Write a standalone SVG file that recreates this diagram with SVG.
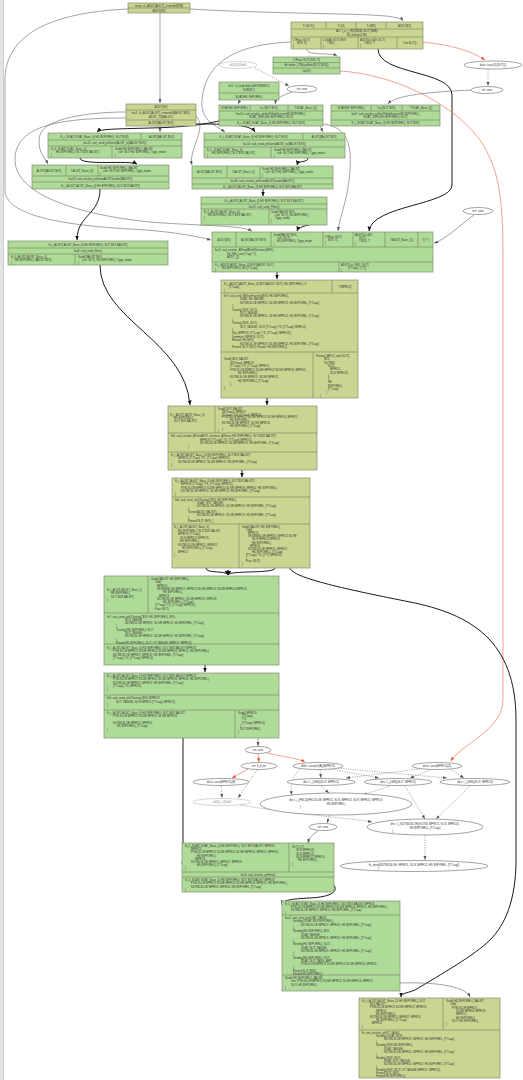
<svg xmlns="http://www.w3.org/2000/svg" width="523" height="1080" viewBox="0 0 523 1080">
<style>
.o{fill:#cad591;stroke:#838c70;stroke-width:0.7}
.g{fill:#afdb98;stroke:#838c70;stroke-width:0.7}
.dv{stroke:#737d60;stroke-width:0.6}
.t{font-family:"Liberation Sans",Arial,sans-serif;font-size:2.8px;fill:#333}
.c{text-anchor:middle}
.el{fill:#fff;stroke:#666;stroke-width:0.6}
.elg{fill:#fff;stroke:#bbb;stroke-width:0.6}
.tg{fill:#888}
.e{fill:none;stroke:#666;stroke-width:0.6}
.b{fill:none;stroke:#1a1a1a;stroke-width:1}
.r{fill:none;stroke:#ef7a5e;stroke-width:0.7}
.d{fill:none;stroke:#777;stroke-width:0.6;stroke-dasharray:1.2,1.2}
</style>
<defs>
<marker id="ag" markerUnits="userSpaceOnUse" markerWidth="5" markerHeight="4" refX="4" refY="1.5" orient="auto"><path d="M0,0L4,1.5L0,3z" fill="#555"/></marker>
<marker id="ab" markerUnits="userSpaceOnUse" markerWidth="5" markerHeight="5" refX="4.5" refY="2" orient="auto"><path d="M0,0L4.5,2L0,4z" fill="#111"/></marker>
<marker id="ar" markerUnits="userSpaceOnUse" markerWidth="5" markerHeight="4" refX="4" refY="1.5" orient="auto"><path d="M0,0L4,1.5L0,3z" fill="#e8452a"/></marker>
</defs>
<rect x="0" y="0" width="523" height="1080" fill="#fff"/>
<rect x="0" y="0" width="3" height="1080" fill="#e4e4e4"/>
<line x1="3.5" y1="0" x2="3.5" y2="1080" stroke="#aaa" stroke-width="0.6"/>

<g id="connectors">
<path class="e" d="M160,13 L160,103" marker-end="url(#ag)"/>
<path class="e" d="M128,9 C60,12 5,30 5,80 L5,190 C5,215 60,225 130,229 C170,231 195,236 211,240" marker-end="url(#ag)"/>
<path class="e" d="M190,9 C240,12 300,13 340,14 C380,15 400,16 403,21" marker-end="url(#ag)"/>
<path class="e" d="M307,49 C306,56 330,52 337,56" marker-end="url(#ag)"/>
<path class="b" d="M378,49 C378,75 452,70 452,95 L452,185 C452,205 372,205 369,231" marker-end="url(#ab)"/>
<path class="r" d="M423,42 C450,45 470,50 485,60" marker-end="url(#ar)"/>
<path class="r" d="M340,71 C390,74 450,100 480,140 C500,170 503,200 503,260 L503,700 C503,730 460,745 451,761" marker-end="url(#ar)"/>
<path class="d" d="M488,69 L488,86" marker-end="url(#ag)"/>
<path class="e" d="M471,90 C430,92 395,95 388,104" marker-end="url(#ag)"/>
<path class="d" d="M255,68 L289,86" marker-end="url(#ag)"/>
<path class="e" d="M292,92 C280,96 276,99 275,104" marker-end="url(#ag)"/>
<path class="e" d="M240,100 L238,104" marker-end="url(#ag)"/>
<path class="e" d="M291,42 C240,44 205,60 202,100 C200,120 215,125 225,132" marker-end="url(#ag)"/>
<path class="b" d="M219,121 C205,124 190,127 150,128 C115,129 100,129 97,132" marker-end="url(#ab)"/>
<path class="b" d="M196,124 C225,124 250,124 255,132" marker-end="url(#ab)"/>
<path class="e" d="M320,126 L323,132" marker-end="url(#ag)"/>
<path class="e" d="M160,126 L160,132" marker-end="url(#ag)"/>
<path class="e" d="M196,116 C208,128 188,150 192,165" marker-end="url(#ag)"/>
<path class="e" d="M126,112 C90,112 45,118 40,135 C36,150 45,158 48,164" marker-end="url(#ag)"/>
<path class="e" d="M126,118 C60,118 15,125 15,160 C15,195 80,215 150,222 C200,226 240,225 252,231" marker-end="url(#ag)"/>
<path class="e" d="M323,124 C345,127 352,140 350,170 C348,200 340,215 338,231" marker-end="url(#ag)"/>
<path class="b" d="M80,158 C80,166 130,160 137,164" marker-end="url(#ab)"/>
<path class="b" d="M308,158 C308,163 298,160 297,165" marker-end="url(#ab)"/>
<path class="b" d="M263,189 L263,196" marker-end="url(#ab)"/>
<path class="b" d="M100,189 C100,215 77,215 77,240" marker-end="url(#ab)"/>
<path class="b" d="M324,215 C336,225 300,222 297,231" marker-end="url(#ab)"/>
<path class="e" d="M474,215 C460,225 445,240 434,243" marker-end="url(#ag)"/>
<path class="b" d="M277,272 L277,279" marker-end="url(#ab)"/>
<path class="b" d="M100,265 C100,320 185,340 190,405" marker-end="url(#ab)"/>
<path class="b" d="M267,398 L267,405" marker-end="url(#ab)"/>
<path class="b" d="M242,470 L242,477" marker-end="url(#ab)"/>
<path class="b" d="M206,568 C206,574 226,570 228,575" marker-end="url(#ab)"/>
<path class="b" d="M275,568 C275,574 230,570 228,575" marker-end="url(#ab)"/>
<path class="b" d="M290,568 C292,578 350,590 410,602 C470,614 516,640 516,720 L516,860 C516,900 505,925 490,940 C475,955 440,975 415,990 C405,994 401,993 401,997" marker-end="url(#ab)"/>
<path class="b" d="M205,665 L205,672" marker-end="url(#ab)"/>
<path class="b" d="M183,738 L183,866" marker-end="url(#ab)"/>
<path class="e" d="M258,738 L258,746" marker-end="url(#ag)"/>
<path class="r" d="M258,754 L259,762" marker-end="url(#ar)"/>
<path class="r" d="M267,753 C285,757 300,759 305,762" marker-end="url(#ar)"/>
<path class="r" d="M248,769 L232,778" marker-end="url(#ar)"/>
<path class="d" d="M257,770 L238,798" marker-end="url(#ag)"/>
<path class="d" d="M221,786 L222,798" marker-end="url(#ag)"/>
<path class="d" d="M320,770 L321,778" marker-end="url(#ag)"/>
<path class="d" d="M330,769 L379,778" marker-end="url(#ag)"/>
<path class="d" d="M336,768 L447,778" marker-end="url(#ag)"/>
<path class="d" d="M420,769 L346,778" marker-end="url(#ag)"/>
<path class="d" d="M430,770 L410,778" marker-end="url(#ag)"/>
<path class="d" d="M450,769 L464,778" marker-end="url(#ag)"/>
<path class="d" d="M300,769 C290,780 290,788 292,795" marker-end="url(#ag)"/>
<path class="d" d="M321,786 L329,793" marker-end="url(#ag)"/>
<path class="d" d="M390,786 L363,795" marker-end="url(#ag)"/>
<path class="d" d="M405,786 L425,819" marker-end="url(#ag)"/>
<path class="d" d="M470,786 L436,819" marker-end="url(#ag)"/>
<path class="d" d="M240,805 C300,815 350,818 372,822" marker-end="url(#ag)"/>
<path class="d" d="M330,815 L327,823" marker-end="url(#ag)"/>
<path class="e" d="M318,831 C312,835 309,838 308,843" marker-end="url(#ag)"/>
<path class="d" d="M425,835 L425,860" marker-end="url(#ag)"/>
<path class="b" d="M333,884 C340,892 330,897 310,898 C290,899 283,900 282,905" marker-end="url(#ab)"/>
<path class="e" d="M400,983 C430,982 465,985 470,997" marker-end="url(#ag)"/>
</g>

<g id="n1">
<rect class="o" x="128" y="3" width="62" height="10"/>
<line class="dv" x1="128" y1="8" x2="190" y2="8"/>
<text class="t c" x="159" y="6.6">entry: cli_ADDT{ADDT}_ricmodel{$X$}</text>
<text class="t c" x="159" y="11.6">ADDT{$X}</text>
</g>

<g id="n2">
<rect class="o" x="291" y="22" width="132" height="27"/>
<path class="dv" d="M291,29H423M291,37H423M326,22V29M356,22V29M386,22V29M321,37V49M358,37V49M397,37V49"/>
<text class="t c" x="308.5" y="26.6">T&lt;:$LIT{}</text>
<text class="t c" x="341" y="26.6">T&lt;{X}</text>
<text class="t c" x="371" y="26.6">T&lt;{$ID}</text>
<text class="t c" x="404.5" y="26.6">ADDT{$X}</text>
<text class="t c" x="357" y="32.3">ALI: t_ct_i_fR(0{$U$}: $LIT{ $R$}:</text>
<text class="t c" x="357" y="35.6">fld_f(rmake) $X}</text>
<text class="t" x="293" y="40.5">L?Rsys SLIT{<tspan x="297" dy="3">$VX: X}</tspan><tspan x="293" dy="3">}</tspan></text>
<text class="t" x="323" y="40.5">LDSAS SLIT{ $VX:<tspan x="327" dy="3">T:$ID}</tspan><tspan x="323" dy="3">}</tspan></text>
<text class="t" x="360" y="40.5">ADDT{Lrc($X: SLIT{<tspan x="364" dy="3">T:$ID}: T</tspan><tspan x="360" dy="3">}</tspan></text>
<text class="t c" x="410" y="43.5">Out SLIT{}</text>
</g>

<g id="n3">
<rect class="g" x="273" y="57" width="67" height="17"/>
<path class="dv" d="M273,62.5H340M273,68H340"/>
<text class="t c" x="306.5" y="60.8">L?Rsys SLIT{ $X4, X}</text>
<text class="t c" x="306.5" y="66.3">fld: make_LTR(sysflder{$LIT{ $X4}})</text>
<text class="t c" x="306.5" y="72">Out{X}</text>
</g>

<g id="e1"><ellipse class="elg" cx="238" cy="65" rx="19" ry="3.5"/><text class="t c tg" x="238" y="66">rb(3)(2)@ab0</text></g>
<g id="e2"><ellipse class="el" cx="302" cy="89" rx="15" ry="3.5"/><text class="t c" x="302" y="90">ret: sexx</text></g>
<g id="e3"><ellipse class="el" cx="493" cy="65" rx="29" ry="4"/><text class="t c" x="493" y="66">deut: case(X)(SLIT{})</text></g>
<g id="e4"><ellipse class="el" cx="487" cy="90" rx="16" ry="3.5"/><text class="t c" x="487" y="91">ret: sexx</text></g>
<g id="e5"><ellipse class="el" cx="478" cy="211" rx="15" ry="3.5"/><text class="t c" x="478" y="212">ertr: sexx</text></g>

<g id="n4">
<rect class="g" x="219" y="82" width="60" height="18"/>
<path class="dv" d="M219,93H279"/>
<text class="t c" x="249" y="86.5">fn11: cli_fnyfcdl(test)BOP(RMOL)</text>
<text class="t c" x="249" y="90.5">SUR($LT)</text>
<text class="t c" x="249" y="97.5">SOAT(HD $VPOREL)</text>
</g>

<g id="n5">
<rect class="g" x="219" y="105" width="104" height="21"/>
<path class="dv" d="M219,111H323M219,120H323M250,105V111M288,105V111"/>
<text class="t c" x="234.5" y="109">SOAT(HD $VPOREL)</text>
<text class="t c" x="269" y="109">h=:{$LIT $VX}</text>
<text class="t c" x="305.5" y="109">T:SOAT_Base_0{}</text>
<text class="t c" x="271" y="114.5">fn=10: sud_resolve_ptrfterfTrfmbScreen(HD $VPOREL},</text>
<text class="t c" x="271" y="118">SOAT_SUFL(HD $VPOREL), SLIT}</text>
<text class="t c" x="271" y="124.2">fli_i_SOAT{ SOAT_Base_0} HD $VPOREL}: SLIT $VX}</text>
</g>

<g id="n6">
<rect class="g" x="331" y="105" width="109" height="21"/>
<path class="dv" d="M331,111H440M331,120H440M371,105V111M402,105V111"/>
<text class="t c" x="351" y="109">SOAT(HD $VPOREL)</text>
<text class="t c" x="386.5" y="109">h=:{SLIT $VX}</text>
<text class="t c" x="421" y="109">T:SOAT_Base_0{}</text>
<text class="t c" x="385.5" y="114.5">fn=9: sud_resolve_ptrfterfTrfmbScreen(HD $VPOREL},</text>
<text class="t c" x="385.5" y="118">SOAT_SUFL(HD $VPOREL), SLIT}</text>
<text class="t c" x="385.5" y="124.2">fli_i_SOAT{ SOAT_Base_0} HD $VPOREL}: SLIT $VX}</text>
</g>

<g id="n7">
<rect class="o" x="126" y="104" width="70" height="22"/>
<path class="dv" d="M126,110H196M126,120H196"/>
<text class="t c" x="161" y="108.2">ADDT{$X}</text>
<text class="t c" x="161" y="114">fn=1: cli_ALIST{ALIST}_ricmodel{$ALIST $VX},</text>
<text class="t c" x="161" y="117.8">ALIST_TS{$ALIST}</text>
<text class="t c" x="161" y="124.2">ALIST{$ALIST $VX}</text>
</g>

<g id="n8">
<rect class="g" x="48" y="133" width="134" height="25"/>
<path class="dv" d="M48,140H182M48,146H182M141,133V140M112,146V158"/>
<text class="t c" x="94.5" y="137.5">fli_i_SOAT{ SOAT_Base_0} HD $VPOREL}: SLIT $VX}</text>
<text class="t c" x="161.5" y="137.5">ALIST{$ALIST $VX}</text>
<text class="t c" x="115" y="144">fn=12: sud_send_ptrDone{ALIST_to{$ALIST $VX}}</text>
<text class="t" x="51" y="150">fli_0_SOAT{ SOAT_Base_0},<tspan x="56" dy="3">HD $VPOREL}: SLIT $VX $ALIST}</tspan><tspan x="51" dy="3">}</tspan></text>
<text class="t" x="115" y="150">Sudd{ HD $VPOREL}, $ALIST<tspan x="118" dy="3">ctor: SLIT HD $VPOREL}, Tgpp_mode</tspan><tspan x="115" dy="3">}</tspan></text>
</g>

<g id="n9">
<rect class="g" x="32" y="165" width="137" height="24"/>
<path class="dv" d="M32,176H169M32,182H169M66,165V176M98,165V176"/>
<text class="t c" x="49" y="171.5">ALIST{$ALIST $VX}</text>
<text class="t c" x="82" y="171.5">T:ALIST_Base_0{}</text>
<text class="t" x="100" y="169">Sudd{ HD $VPOREL}, $ALIST<tspan x="103" dy="3">ctor: SLIT HD $VPOREL}, Tgpp_mode</tspan><tspan x="100" dy="3">}</tspan></text>
<text class="t c" x="100.5" y="180">fn=13: sud_resolve_ptrDoneALIST(loader{$ALIST})</text>
<text class="t c" x="100.5" y="186.5">fli_i_ALIST{ ALIST_Base_0} HD $VPOREL}: SLIT $VX $ALIST}</text>
</g>

<g id="n10">
<rect class="g" x="204" y="133" width="141" height="25"/>
<path class="dv" d="M204,140H345M204,147H345M303,133V140M271,147V158"/>
<text class="t c" x="253.5" y="137.5">fli_i_SOAT{ SOAT_Base_0} HD $VPOREL}: SLIT $VX}</text>
<text class="t c" x="324" y="137.5">ALIST{$ALIST $VX}</text>
<text class="t c" x="274.5" y="144.5">fn=14: sud_send_ptrDone{ALIST_to{$ALIST $VX}}</text>
<text class="t" x="207" y="151">fli_0_SOAT{ SOAT_Base_0},<tspan x="212" dy="3">HD $VPOREL}: SLIT $VX $ALIST}</tspan><tspan x="207" dy="3">}</tspan></text>
<text class="t" x="274" y="151">Sudd{ HD $VPOREL}, $ALIST<tspan x="277" dy="3">ctor: SLIT HD $VPOREL}, Tgpp_mode</tspan><tspan x="274" dy="3">}</tspan></text>
</g>

<g id="n11">
<rect class="g" x="192" y="166" width="141" height="23"/>
<path class="dv" d="M192,178H333M192,184H333M227,166V178M260,166V178"/>
<text class="t c" x="209.5" y="172.5">ALIST{$ALIST $VX}</text>
<text class="t c" x="243.5" y="172.5">T:ALIST_Base_0{}</text>
<text class="t" x="262" y="169.5">Sudd{ HD $VPOREL}, $ALIST<tspan x="265" dy="3">ctor: SLIT HD $VPOREL}, Tgpp_mode</tspan><tspan x="262" dy="3">}</tspan></text>
<text class="t c" x="262.5" y="182">fn=16: sud_resolve_ptrDoneALIST(loader{$ALIST})</text>
<text class="t c" x="262.5" y="187.6">fli_i_ALIST{ ALIST_Base_0} HD $VPOREL}: SLIT $VX $ALIST}</text>
</g>

<g id="n12">
<rect class="g" x="201" y="197" width="126" height="28"/>
<path class="dv" d="M201,204H327M201,209H327M269,209V225"/>
<text class="t c" x="264" y="201.5">fli_i_ALIST{ ALIST_Base_0} HD $VPOREL}: SLIT $VX $ALIST}</text>
<text class="t c" x="264" y="207.5">fn=15: sud_send_Ffree()</text>
<text class="t" x="204" y="213">fli_0_ALIST{ ALIST_Base_0},<tspan x="208" dy="3">HD $VPOREL}: SLIT $VX $ALIST}</tspan><tspan x="204" dy="3">}</tspan></text>
<text class="t" x="271" y="213">Sudd{ $ALIST $VX,<tspan x="275" dy="3">ctor: SLIT}, HD $VPOREL},</tspan><tspan x="275" dy="3">Tgpp_mode</tspan><tspan x="271" dy="3">}</tspan></text>
</g>

<g id="n13">
<rect class="g" x="8" y="241" width="160" height="24"/>
<path class="dv" d="M8,248H168M8,254H168M75,254V265"/>
<text class="t c" x="88" y="245.5">fli_i_ALIST{ ALIST_Base_0} HD $VPOREL}: SLIT $VX $ALIST}</text>
<text class="t c" x="88" y="251.5">fn=8: sud_send_ffree()</text>
<text class="t" x="11" y="257.5">fli_0_ALIST{ ALIST_Base_0},<tspan x="15" dy="3">HD $VPOREL}: $ALIST $VX}</tspan><tspan x="11" dy="3">}</tspan></text>
<text class="t" x="78" y="257.5">Sudd{ $ALIST $VX,<tspan x="82" dy="3">ctor: SLIT}, HD $VPOREL}, Tgpp_mode</tspan><tspan x="78" dy="3">}</tspan></text>
</g>

<g id="n14">
<rect class="g" x="212" y="232" width="221" height="40"/>
<path class="dv" d="M212,247H433M212,262H433M236,232V247M271,232V247M323,232V247M353,232V247M385,232V247M418,232V247M339,262V272"/>
<text class="t c" x="224" y="240.5">ADDT{$X}</text>
<text class="t c" x="253.5" y="240.5">ALIST{$ALIST $VX}</text>
<text class="t" x="273.5" y="236">Sudd{$ALIST $VX,<tspan x="277" dy="3">ctor: SLIT},</tspan><tspan x="277" dy="3">HD $VPOREL}, Tgpp_mode</tspan><tspan x="273.5" dy="3">}</tspan></text>
<text class="t" x="325" y="237.5">L?Rsys SLIT{<tspan x="328" dy="3">$VX: X}</tspan><tspan x="325" dy="3">}</tspan></text>
<text class="t" x="355" y="236">ADDT{Lrc($X:<tspan x="359" dy="3">SLIT{</tspan><tspan x="359" dy="3">T:$ID}: T</tspan><tspan x="355" dy="3">}</tspan></text>
<text class="t c" x="401.5" y="240.5">T:ADDT_Base_0{}</text>
<text class="t c" x="425.5" y="240.5">T{ T }</text>
<text class="t" x="215" y="251">fn=5: sud_resolve_ATfreeATmfrfSccheen{$VX},<tspan x="227" dy="3.5">fld_fSR_case{ T:ap}: T},</tspan><tspan x="227" dy="3.5">ADDT_{}}</tspan></text>
<text class="t" x="215" y="265.5">fli_i_ADDT{ ADDT_Base_0} $VX $ALIST: SLIT}<tspan x="222" dy="3">HD $VPOREL}: $X [T:T=ap]}</tspan><tspan x="215" dy="2.6">}</tspan></text>
<text class="t" x="341" y="265.5">ADDT{Lrc{ $VX: SLIT}<tspan x="348" dy="3">[T:T=ap]: [T:T]}</tspan><tspan x="341" dy="2.6">}</tspan></text>
</g>

<g id="n15">
<rect class="o" x="221" y="280" width="137" height="118"/>
<path class="dv" d="M221,293H358M221,352H358M332,280V293M313,352V398"/>
<text class="t" x="224" y="284.5">fli_i_ADDT{ ADDT_Base_0} $VX $ALIST: SLIT}: HD $VPOREL}: X<tspan x="229" dy="3.5">[T:T=ap]</tspan><tspan x="224" dy="3.5">}</tspan></text>
<text class="t c" x="345" y="287.5">T:MPRO2}</text>
<text class="t" x="224" y="297">fn7: sud_send_ATfreeFturning{$VX, HD $VPOREL},<tspan x="240" dy="3.4">SGAT, HD TASGIE,</tspan><tspan x="240" dy="3.4">KDTMLSLOE MPRO1, SLIVE MPRO2, HD $VPOREL, [T:T=ap]</tspan><tspan x="232" dy="3.4">},</tspan><tspan x="232" dy="3.4">Turning{ $VX, SLIT},</tspan><tspan x="240" dy="3.4">SLIT, TASGIE,</tspan><tspan x="240" dy="3.4">KDTMLSLOE MPRO1, SLIVE MPRO2, HD $VPOREL, [T:T=ap]</tspan><tspan x="232" dy="3.4">},</tspan><tspan x="232" dy="3.4">Turning{ $VX, SLIT},</tspan><tspan x="240" dy="3.4">SLIT, TASGIE, SLIV, [T:T=ap]: T:X, [T:T=ap]: MPRO2}</tspan><tspan x="232" dy="3.4">},</tspan><tspan x="232" dy="3.4">Sav_MPRO3: [T:T=ap]: T:X, [T:T=ap]: MPRO2}),</tspan><tspan x="232" dy="3.4">Drmtmart: MPRO3: SLIT},</tspan><tspan x="232" dy="3.4">Rmvod: HD $VX},</tspan><tspan x="240" dy="3.4">KDTMLSLOE MPRO3: SLIVE MPRO2, HD $VPOREL, [T:T=ap]</tspan><tspan x="232" dy="3.4">Forwrd: SLIT: $VX}, Forwrd: HD $VPOREL}}</tspan></text>
<text class="t" x="224" y="360">Sudd{ $VX, $ALIST<tspan x="230" dy="3.6">SKTmask: MPRO3</tspan><tspan x="230" dy="3.6">[T:T=ap]: T:X, [T:T=ap]: MPRO2,</tspan><tspan x="230" dy="3.6">FTELSLOE MPRO1 SLIVE MPRO2 SLIVE MPRO3, MPRO2,</tspan><tspan x="238" dy="3.6">HD $VPOREL},</tspan><tspan x="230" dy="3.6">KDTMLSLOE MPRO1: SLIVE MPRO2,</tspan><tspan x="238" dy="3.6">HD $VPOREL}, [T:T=ap]</tspan><tspan x="230" dy="3.6">},</tspan><tspan x="224" dy="3.6">}</tspan></text>
<text class="t" x="316" y="357">Forwrd_MRO3_aan{ SLIT},<tspan x="324" dy="3.3">$VX,</tspan><tspan x="324" dy="3.3">SQTMS{</tspan><tspan x="328" dy="3.3">SLIV,</tspan><tspan x="330" dy="3.3">MPRO2,</tspan><tspan x="330" dy="3.3">SLIV MPRO2}</tspan><tspan x="328" dy="3.3">},</tspan><tspan x="328" dy="3.3">}</tspan><tspan x="328" dy="3.3">HD</tspan><tspan x="328" dy="3.3">$VPOREL},</tspan><tspan x="328" dy="3.3">[T:T=ap]</tspan><tspan x="326" dy="3.3">}</tspan><tspan x="320" dy="3.3">}</tspan></text>
</g>

<g id="n16">
<rect class="o" x="168" y="406" width="149" height="64"/>
<path class="dv" d="M168,433H317M168,452H317M215,406V433"/>
<text class="t" x="170" y="416">fli_i_ADDT{ ADDT_Base_0}<tspan x="174" dy="3">HD $VPOREL},</tspan><tspan x="174" dy="3">SLIT $VX $ALIST}</tspan></text>
<text class="t" x="218" y="410">Sudd{ $VX, $ALIST<tspan x="222" dy="2.8">SKTmask: MPRO3</tspan><tspan x="222" dy="2.8">[T:T=ap]: T:X, [T:T=ap]: MPRO2,</tspan><tspan x="222" dy="2.8">FTELSLOE MPRO1 SLIVE MPRO2 SLIVE MPRO3, MPRO2,</tspan><tspan x="230" dy="2.8">HD $VPOREL},</tspan><tspan x="222" dy="2.8">KDTMLSLOE MPRO1: SLIVE MPRO2,</tspan><tspan x="230" dy="2.8">HD $VPOREL}, [T:T=ap]</tspan><tspan x="222" dy="2.8">},</tspan><tspan x="218" dy="2.8">}</tspan></text>
<text class="t" x="171" y="437">fn6: sud_resolve_ATfreeATrfT_receives_ATfreez {HD $VPOREL}: SLIT $VX $ALIST}<tspan x="200" dy="3.6">MPRO3: [T:T=ap]: T:X, [T:T=ap]: MPRO2},</tspan><tspan x="200" dy="3.6">KDTMLSLOE MPRO1: SLIVE MPRO2: HD $VPOREL, [T:T=ap]</tspan><tspan x="188" dy="3.6">}</tspan></text>
<text class="t" x="171" y="456">fli_i_ALIST{ ALIST_Base_10 HD $VPOREL}: SLIT $VX $ALIST}<tspan x="178" dy="3.4">MPRO3: [T:T=ap]: T:X, [T:T=ap]: MPRO2},</tspan><tspan x="178" dy="3.4">KDTMLSLOE MPRO1: SLIVE MPRO2: HD $VPOREL, [T:T=ap]</tspan><tspan x="171" dy="3.4">}</tspan></text>
</g>

<g id="n17">
<rect class="o" x="172" y="478" width="138" height="90"/>
<path class="dv" d="M172,497H310M172,524H310M239,524V568"/>
<text class="t" x="175" y="482">fli_i_ALIST{ ALIST_Base_10 HD $VPOREL}: SLIT $VX $ALIST}<tspan x="181" dy="3.3">MPRO3: [T:T=ap]: T:X, [T:T=ap]: MPRO2},</tspan><tspan x="181" dy="3.3">FTELSLOE MPRO1 SLIVE MPRO2 SLIVE MPRO3, MPRO2, HD $VPOREL},</tspan><tspan x="181" dy="3.3">KDTMLSLOE MPRO1: SLIVE MPRO2: HD $VPOREL, [T:T=ap]</tspan><tspan x="175" dy="3.3">}</tspan></text>
<text class="t" x="175" y="501">fn4: sud_send_ptrDTurning{ $VX, HD $VPOREL},<tspan x="197" dy="3">SGAT, SLIT, TASGIE,</tspan><tspan x="197" dy="3">KDTMLSLOE MPRO1: SLIVE MPRO2: HD $VPOREL, [T:T=ap]</tspan><tspan x="188" dy="3">},</tspan><tspan x="188" dy="3">Tarned ALIST: $ALIST},</tspan><tspan x="197" dy="3">KDTMLSLOE MPRO1: SLIVE MPRO2: HD $VPOREL, [T:T=ap]</tspan><tspan x="188" dy="3">},</tspan><tspan x="188" dy="3">Forwrd SLIT: $VX}, }</tspan></text>
<text class="t" x="174" y="528">fli_i_ALIST{ ALIST_Base_0},<tspan x="178" dy="3.5">HD $VPOREL}, SLIT $VX $ALIST</tspan><tspan x="178" dy="3.5">MPRO3: [T:T=ap],</tspan><tspan x="180" dy="3.5">SLIV MPRO2: MPRO3,</tspan><tspan x="180" dy="3.5">HD $VPOREL},</tspan><tspan x="178" dy="3.5">KDTMLSLOE MPRO1: MPRO2:</tspan><tspan x="182" dy="3.5">HD $VPOREL}, [T:T=ap]</tspan><tspan x="178" dy="3.5">MPRO2</tspan><tspan x="174" dy="3.5">}</tspan></text>
<text class="t" x="242" y="528">Sudd{ $ALIST: HD $VPOREL},<tspan x="246" dy="3.1">Odd{</tspan><tspan x="248" dy="3.1">MPRO3</tspan><tspan x="248" dy="3.1">SKSMMSLOE MPRO1: MPRO2 SLIVE</tspan><tspan x="252" dy="3.1">SLIV MPRO2 MPRO3,</tspan><tspan x="252" dy="3.1">HD $VPOREL},</tspan><tspan x="250" dy="3.1">MPRO3</tspan><tspan x="248" dy="3.1">KDTMLSLOE MPRO1: MPRO2</tspan><tspan x="252" dy="3.1">HD $VPOREL}, [T:T=ap]</tspan><tspan x="246" dy="3.1">[T:T=ap]: T:X, [T:T]: MPRO2},</tspan><tspan x="246" dy="3.1">}</tspan><tspan x="246" dy="3.1">Fuar: $LIT}</tspan><tspan x="242" dy="3.1">}</tspan></text>
</g>

<g id="n18">
<rect class="g" x="104" y="576" width="175" height="89"/>
<path class="dv" d="M104,613H279M104,644H279M148,576V613"/>
<text class="t" x="107" y="591">fli_i_ALIST{ ALIST_Base_0}<tspan x="111" dy="3.3">HD $VPOREL},</tspan><tspan x="111" dy="3.3">SLIT $VX $ALIST}</tspan><tspan x="107" dy="3.3">}</tspan></text>
<text class="t" x="151" y="580">Sudd{ $ALIST: HD $VPOREL},<tspan x="155" dy="3.3">Odd{</tspan><tspan x="157" dy="3.3">MPRO3</tspan><tspan x="157" dy="3.3">SKSMMSLOE MPRO1: MPRO2 SLIVE MPRO2 SLIVE MPRO3 MPRO2,</tspan><tspan x="163" dy="3.3">HD $VPOREL},</tspan><tspan x="159" dy="3.3">MPRO3</tspan><tspan x="157" dy="3.3">KDTMLSLOE MPRO1: SLIVE MPRO2: MPRO3,</tspan><tspan x="163" dy="3.3">HD $VPOREL}, [T:T=ap]</tspan><tspan x="155" dy="3.3">[T:T=ap]: T:X, [T:T=ap]: MPRO2},</tspan><tspan x="155" dy="3.3">Fuar: $LIT}</tspan></text>
<text class="t" x="107" y="617.5">fn7: sud_send_ptrDTurning{ $VX, HD $VPOREL}, $VX,<tspan x="125" dy="3.3">SLIT, TASGIE,</tspan><tspan x="125" dy="3.3">KDTMLSLOE MPRO1: SLIVE MPRO2: HD $VPOREL, [T:T=ap]</tspan><tspan x="116" dy="3.3">},</tspan><tspan x="116" dy="3.3">Turning{ HD $VPOREL}, SLIT,</tspan><tspan x="125" dy="3.3">SLIT, TASGIE,</tspan><tspan x="125" dy="3.3">KDTMLSLOE MPRO1: SLIVE MPRO2: HD $VPOREL, [T:T=ap]</tspan><tspan x="116" dy="3.3">},</tspan><tspan x="116" dy="3.3">Forwrd HD $VPOREL}, SLIT, LIT TASGIE: MPRO1: MPRO2}</tspan></text>
<text class="t" x="107" y="648.5">fli_i_ALIST{ ALIST_Base_0} HD $VPOREL}: SLIT $VX $ALIST: MPRO3<tspan x="113" dy="3.5">FTELSLOE MPRO1 SLIVE MPRO2 SLIVE MPRO3, MPRO2, HD $VPOREL},</tspan><tspan x="113" dy="3.5">KDTMLSLOE MPRO1: MPRO2: HD $VPOREL, [T:T=ap]</tspan><tspan x="113" dy="3.5">[T:T=ap]: T:X, [T:T=ap]: MPRO2},</tspan></text>
</g>

<g id="n19">
<rect class="g" x="104" y="673" width="175" height="65"/>
<path class="dv" d="M104,695H279M104,710H279M235,710V738"/>
<text class="t" x="107" y="677">fli_i_ALIST{ ALIST_Base_0} HD $VPOREL}: SLIT $VX $ALIST: MPRO3<tspan x="113" dy="3.3">FTELSLOE MPRO1 SLIVE MPRO2 SLIVE MPRO3, MPRO2, HD $VPOREL},</tspan><tspan x="113" dy="3.3">KDTMLSLOE MPRO1: MPRO2: HD $VPOREL, [T:T=ap]</tspan><tspan x="113" dy="3.3">[T:T=ap]: T:X, MPRO2},</tspan><tspan x="107" dy="3.3">}</tspan></text>
<text class="t" x="107" y="699">fn6: sud_send_ptrDTurning{ $VX, MPRO3:<tspan x="116" dy="3.5">SLIT, TASGIE, SLIV MPRO1 [T:T=ap]: MPRO2},</tspan><tspan x="107" dy="3.5">}</tspan></text>
<text class="t" x="107" y="714">fli_i_ALIST{ ALIST_Base_0} HD $VPOREL}: SLIT $VX $ALIST<tspan x="113" dy="3.3">FTELSLOE MPRO1 SLIVE MPRO2 SLIVE MPRO3,</tspan><tspan x="113" dy="6.6">KDTMLSLOE MPRO1: MPRO2,</tspan><tspan x="117" dy="3.3">HD $VPOREL}, [T:T=ap]</tspan><tspan x="107" dy="3.3">}</tspan></text>
<text class="t" x="238" y="714">Sudd{ MPRO3:<tspan x="242" dy="3.2">[T:T=ap],</tspan><tspan x="242" dy="3.2">T:X,</tspan><tspan x="242" dy="3.2">[T:T=ap]: MPRO2},</tspan><tspan x="240" dy="3.2">},</tspan><tspan x="240" dy="3.2">SLIT $VPOREL}</tspan><tspan x="238" dy="3.2">}</tspan></text>
</g>

<g id="e6"><ellipse class="el" cx="258" cy="750" rx="13" ry="3.5"/><text class="t c" x="258" y="751">ret: sexx</text></g>
<g id="e7"><ellipse class="el" cx="259" cy="766" rx="18" ry="3.5"/><text class="t c" x="259" y="767">ret: ll_d_mt</text></g>
<g id="e8"><ellipse class="el" cx="318" cy="766" rx="25" ry="3.5"/><text class="t c" x="318" y="767">drbrt: case(ref(A))(MPRO1)</text></g>
<g id="e9"><ellipse class="el" cx="437" cy="766" rx="25" ry="3.5"/><text class="t c" x="437" y="767">deut: case(MPRO1)(X)</text></g>
<g id="e10"><ellipse class="el" cx="221" cy="782" rx="28" ry="3.5"/><text class="t c" x="221" y="783">deut: case(MPRO1)(B)</text></g>
<g id="e11"><ellipse class="el" cx="321" cy="782" rx="34" ry="3.5"/><text class="t c" x="321" y="783">dtrs: L_{LEN}(SLIT, MPRO1)</text></g>
<g id="e12"><ellipse class="el" cx="398" cy="782" rx="34" ry="3.5"/><text class="t c" x="398" y="783">dtrs: L_{LEN}(SLIT, MPRO2)</text></g>
<g id="e13"><ellipse class="el" cx="475" cy="782" rx="35" ry="3.5"/><text class="t c" x="475" y="783">dtrs: L_{LEN}(SLIT, MPRO3)</text></g>
<g id="e14"><ellipse class="elg" cx="222" cy="802" rx="29" ry="3.5"/><text class="t c tg" x="222" y="803">rb(3)(++)@ab0</text></g>
<g id="e15"><ellipse class="el" cx="336" cy="804" rx="76" ry="11"/><text class="t c" x="336" y="801">dtrs: L_{FELD}(FELDLOE, MPRO1, SLIV, MPRO2, SLIV, MPRO2, MPRO3,</text><text class="t c" x="336" y="804.5">HD $VPOREL)</text><text class="t" x="300" y="808">}</text></g>
<g id="e16"><ellipse class="el" cx="323" cy="827" rx="14" ry="3.5"/><text class="t c" x="323" y="828">ret: sexx</text></g>
<g id="e17"><ellipse class="el" cx="425" cy="827" rx="58" ry="8"/><text class="t c" x="425" y="825">dtrs: L_{KDTMLSLOE}(KDTM, MPRO1, SLIV, MPRO2),</text><text class="t c" x="425" y="828.5">HD $VPOREL), [T:T=ap]</text><text class="t" x="392" y="832">}</text></g>
<g id="e18"><ellipse class="el" cx="414" cy="866" rx="74" ry="5.5"/><text class="t c" x="414" y="865.5">fn_deref(KDTMLSLOE, MPRO1, SLIV, MPRO2, HD $VPOREL, [T:T=ap])</text><text class="t" x="378" y="869">}</text></g>

<g id="n20">
<rect class="g" x="182" y="843" width="152" height="49"/>
<path class="dv" d="M182,872H334M182,877H334M289,843V872"/>
<text class="t" x="185" y="847">fli_0_SOAT{ SOAT_Base_0} HD $VPOREL}: SLIT $VX $ALIST: MPRO3<tspan x="191" dy="3.2">MPRO3,</tspan><tspan x="191" dy="3.2">FTELSLOE MPRO1 SLIVE MPRO2 SLIVE MPRO3, MPRO2, MPRO3,</tspan><tspan x="197" dy="3.2">HD $VPOREL},</tspan><tspan x="195" dy="3.2">MPRO3,</tspan><tspan x="191" dy="3.2">KDTMLSLOE MPRO1: MPRO2: MPRO3,</tspan><tspan x="197" dy="3.2">HD $VPOREL}, [T:T=ap]</tspan><tspan x="185" dy="3.2">}</tspan></text>
<text class="t" x="292" y="848">SLIT{ LIT:<tspan x="296" dy="3.3">SLIV MPRO2},</tspan><tspan x="296" dy="3.3">SLIV MPRO2},</tspan><tspan x="296" dy="3.3">SLIV MPRO2: MPRO3,</tspan><tspan x="298" dy="3.3">HD $VPOREL},</tspan><tspan x="292" dy="3.3">}</tspan></text>
<text class="t c" x="258" y="875.6">fn=3: sud_resolve_ptrFree()</text>
<text class="t" x="185" y="881">fli_0_SOAT{ SOAT_Base_0} HD $VPOREL}: SLIT $VX $ALIST: MPRO3<tspan x="191" dy="3.3">FTELSLOE MPRO1 SLIVE MPRO2 SLIVE MPRO3, MPRO2, HD $VPOREL},</tspan><tspan x="191" dy="3.3">KDTMLSLOE MPRO1: MPRO2: HD $VPOREL, [T:T=ap]</tspan><tspan x="185" dy="3.3">}</tspan></text>
</g>

<g id="n21">
<rect class="g" x="282" y="901" width="118" height="90"/>
<path class="dv" d="M282,915H400M282,975H400"/>
<text class="t" x="285" y="904.5">fli_0_SOAT{ SOAT_Base_0} HD $VPOREL}: SLIT $VX $ALIST: MPRO3<tspan x="291" dy="3.2">FTELSLOE MPRO1 SLIVE MPRO2 SLIVE MPRO3, MPRO2, HD $VPOREL},</tspan><tspan x="291" dy="3.2">KDTMLSLOE MPRO1: MPRO2: HD $VPOREL, [T:T=ap]</tspan><tspan x="285" dy="3.2">}</tspan></text>
<text class="t" x="285" y="919">fn=2: sud_send_ptrSOAT_TAGS{<tspan x="293" dy="3.3">Sendng{ SOAT: $VX $VPOREL},</tspan><tspan x="301" dy="3.3">KDTMLSLOE MPRO1: MPRO2: HD $VPOREL, [T:T=ap]</tspan><tspan x="293" dy="3.3">},</tspan><tspan x="293" dy="3.3">Sendng{HD $VPOREL}, $VX,</tspan><tspan x="301" dy="3.3">SOAT: TASGIE,</tspan><tspan x="301" dy="3.3">KDTMLSLOE MPRO1: MPRO2: HD $VPOREL, [T:T=ap]</tspan><tspan x="293" dy="3.3">},</tspan><tspan x="293" dy="3.3">Sendng{HD $VPOREL}, SLIT,</tspan><tspan x="301" dy="3.3">SOAT: $LIT: TASGIE,</tspan><tspan x="301" dy="3.3">KDTMLSLOE MPRO1: MPRO2: HD $VPOREL, [T:T=ap]</tspan><tspan x="293" dy="3.3">},</tspan><tspan x="293" dy="3.3">Sendng{HD $VPOREL}, SLIT,</tspan><tspan x="301" dy="3.3">SOAT: SLIT: TASG_ANP,</tspan><tspan x="301" dy="3.3">FTELSLOE MPRO1 SLIVE MPRO2 SLIVE MPRO3, MPRO2,</tspan><tspan x="293" dy="3.3">},</tspan><tspan x="293" dy="3.3">Forwrd SLIT: $VX},</tspan><tspan x="293" dy="3.3">Forwrd HD $VPOREL}}</tspan></text>
<text class="t" x="285" y="979">Sudd{ HD $VPOREL}, $ALIST<tspan x="291" dy="3.3">ctor: FTELSLOE MPRO1 SLIVE MPRO2 SLIVE MPRO3, MPRO2,</tspan><tspan x="291" dy="3.3">SLIT: HD $VPOREL},</tspan><tspan x="285" dy="3.3">}</tspan></text>
</g>

<g id="n22">
<rect class="o" x="359" y="998" width="141" height="80"/>
<path class="dv" d="M359,1030H500M443,998V1030"/>
<text class="t" x="362" y="1002">fli_0_ALIST{ ALIST_Base_10 HD $VPOREL}, SLIT<tspan x="370" dy="3.2">$VX $ALIST</tspan><tspan x="370" dy="3.2">FTELSLOE MPRO1 SLIVE MPRO2: MPRO3,</tspan><tspan x="376" dy="3.2">MPRO2,</tspan><tspan x="376" dy="3.2">HD $VPOREL},</tspan><tspan x="370" dy="3.2">KDTMLSLOE MPRO1: MPRO2: MPRO3,</tspan><tspan x="376" dy="3.2">HD $VPOREL}, [T:T=ap]</tspan><tspan x="372" dy="3.2">MPRO2</tspan><tspan x="362" dy="3.2">}</tspan></text>
<text class="t" x="446" y="1002">Sudd{ HD $VPOREL}, $ALIST<tspan x="450" dy="3.3">Odd{</tspan><tspan x="452" dy="3.3">FTELSLOE MPRO1:</tspan><tspan x="456" dy="3.3">SLIVE MPRO2 MPRO3,</tspan><tspan x="456" dy="3.3">MPRO2,</tspan><tspan x="456" dy="3.3">HD $VPOREL},</tspan><tspan x="452" dy="3.3">SLIT: HD $VPOREL},</tspan><tspan x="446" dy="3.3">}</tspan></text>
<text class="t" x="362" y="1034">fn: sud_resolve_ptrDT_TAGS{<tspan x="376" dy="3.1">Sendng{ SOAT: $VX},</tspan><tspan x="384" dy="3.1">KDTMLSLOE MPRO1: MPRO2: HD $VPOREL, [T:T=ap]</tspan><tspan x="376" dy="3.1">},</tspan><tspan x="376" dy="3.1">Sendng{ $VX HD $VPOREL},</tspan><tspan x="384" dy="3.1">SOAT: TASGIE,</tspan><tspan x="384" dy="3.1">KDTMLSLOE MPRO1: MPRO2: HD $VPOREL, [T:T=ap]</tspan><tspan x="376" dy="3.1">},</tspan><tspan x="376" dy="3.1">Sendng{ $VX: SLIT,</tspan><tspan x="384" dy="3.1">SOAT: SLIT: TASGIE,</tspan><tspan x="384" dy="3.1">KDTMLSLOE MPRO1: MPRO2: HD $VPOREL, [T:T=ap]</tspan><tspan x="376" dy="3.1">},</tspan><tspan x="376" dy="3.1">Sendng{ $VX: SLIT: LIT: TASGIE MPRO1: MPRO2},</tspan><tspan x="376" dy="3.1">Forwrd SLIT: $VX},</tspan><tspan x="376" dy="3.1">Forwrd HD $VPOREL}}</tspan></text>
</g>
</svg>
